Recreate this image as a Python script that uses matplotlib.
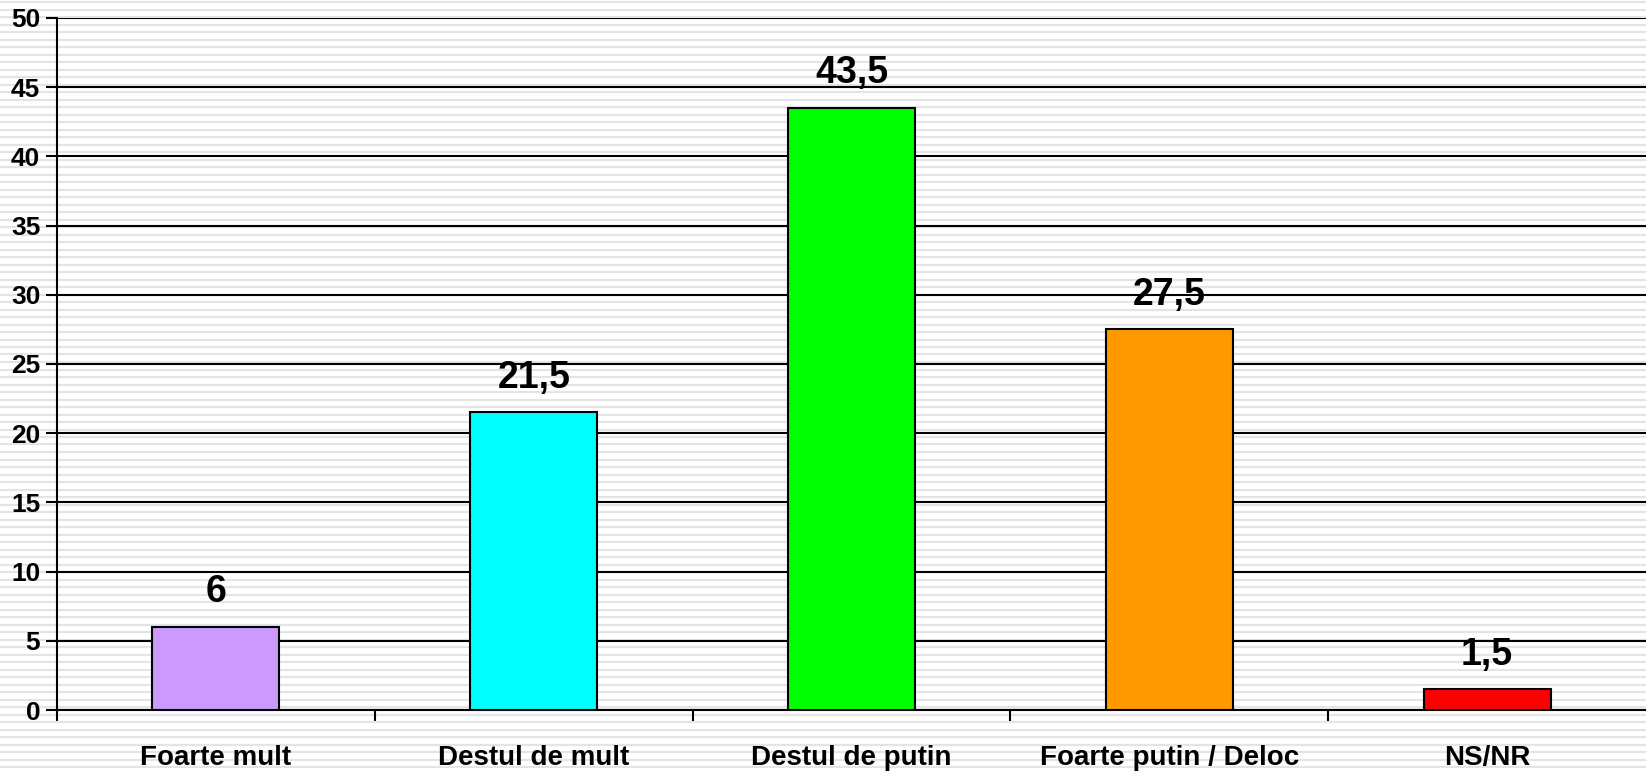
import matplotlib
matplotlib.use("Agg")
import matplotlib.pyplot as plt
from matplotlib.lines import Line2D

categories = ["Foarte mult", "Destul de mult", "Destul de putin", "Foarte putin / Deloc", "NS/NR"]
values = [6, 21.5, 43.5, 27.5, 1.5]
value_labels = ["6", "21,5", "43,5", "27,5", "1,5"]
colors = ["#cc99ff", "#00ffff", "#00ff00", "#ff9900", "#ff0000"]
yticks = [0, 5, 10, 15, 20, 25, 30, 35, 40, 45, 50]

plt.rcParams['font.family'] = ['Liberation Sans', 'DejaVu Sans']
plt.rcParams['font.weight'] = 'bold'

W, H = 1646, 771
fig = plt.figure(figsize=(W / 100, H / 100), dpi=100)
fig.patch.set_facecolor("white")

# striped background
y = 2.0
while y < H:
    fig.add_artist(Line2D([0, 1], [1 - y / H, 1 - y / H], transform=fig.transFigure,
                          color="#e4e4e4", lw=1.5, zorder=0))
    y += 7.5

ax = fig.add_axes([57 / W, 1 - 710 / H, 1 - 57 / W, (710 - 18) / H])
ax.patch.set_alpha(0)

x = list(range(len(categories)))
ax.bar(x, values, width=0.4, color=colors, edgecolor="black", linewidth=1.5, zorder=3)
for xi, v, lab in zip(x, values, value_labels):
    ax.text(xi, v + 1.2, lab, ha="center", va="bottom", fontsize=27, fontweight="bold", zorder=4)

ax.set_xlim(-0.5, len(categories) - 0.5)
ax.set_ylim(0, 50)
ax.set_yticks(yticks)
ax.set_yticklabels([str(t) for t in yticks], fontsize=19, fontweight="bold")
ax.yaxis.grid(True, color="black", linewidth=1.5, zorder=1)
ax.set_axisbelow(True)

ax.set_xticks(x)
ax.set_xticklabels(categories, fontsize=20, fontweight="bold")
ax.tick_params(axis="x", length=0, pad=25)
ax.set_xticks([i + 0.5 for i in x[:-1]] + [-0.5], minor=True)
ax.tick_params(axis="x", which="minor", length=8, width=1.5, direction="out")
ax.tick_params(axis="y", length=8, width=1.5, direction="out", pad=4)

for side in ["top", "right"]:
    ax.spines[side].set_visible(False)
ax.spines["left"].set_linewidth(1.5)
ax.spines["bottom"].set_linewidth(1.5)

fig.savefig("out.png", dpi=100)
